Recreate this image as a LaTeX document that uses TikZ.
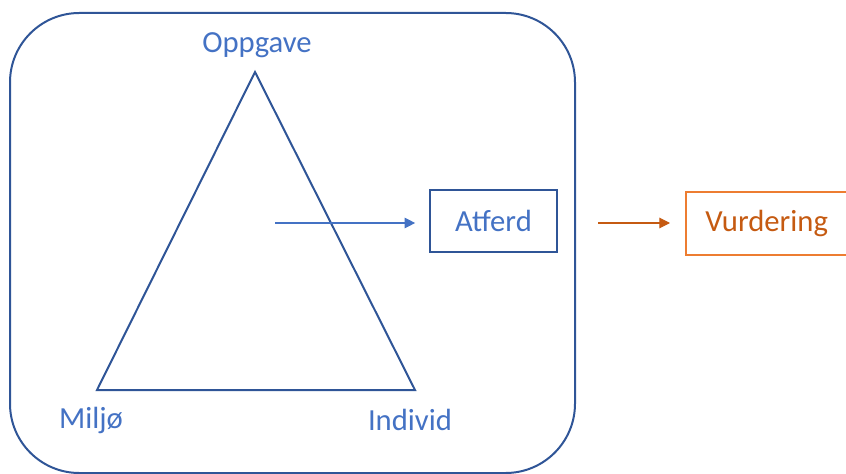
\documentclass[tikz,border=0pt]{standalone}
\usepackage{fontspec}
\setmainfont{Carlito}
\usepackage{tikz}
\usetikzlibrary{calc, arrows.meta, positioning}
\definecolor{frameblue}{RGB}{47,85,151}
\definecolor{textblue}{RGB}{68,114,196}
\definecolor{boxorange}{RGB}{237,125,49}
\definecolor{textorange}{RGB}{197,90,17}
\tikzstyle{corner} =[align=center,inner sep=0pt,text=textblue,font=\fontsize{23}{0}\selectfont]
\tikzstyle{stagebox} =[draw,line width=1.5pt,minimum height=47pt,font=\fontsize{23}{0}\selectfont]

\begin{document}
\begin{tikzpicture}[x=0.75pt, y=-0.75pt]
        \useasboundingbox (0,0) rectangle (846,474);

        % Frame
        \draw[frameblue, line width=1.5pt, rounded corners=52pt] (10,13) rectangle (575,473);

        %% Triangle
        \coordinate (top) at (255,72);
        \coordinate (left) at (97,390);
        \coordinate (right) at (415,390);
        \draw[frameblue, line width=1.5pt, line join=miter] (top) -- (left) -- (right) -- cycle;

        % Corner labels
        \node[corner] (oppgave) at (257,45) {Oppgave};
        \node[corner] (miljo) at (91,420) {Miljø};
        \node[corner] (individ) at (410,420) {Individ};

        %% Boxes
        \node[stagebox, frameblue, text=textblue, minimum width=95pt] (atferd) at (493.5,221) {Atferd};
        \node[stagebox, boxorange, text=textorange, minimum width=121pt, anchor=west] (vurdering) at (685,223.5) {Vurdering};

        %% Arrows
        \coordinate (mid) at (275,223);
        \draw[-{Triangle[length=8pt,width=8pt]}, textblue, line width=0.8pt] (mid) -- ($(mid -| atferd.west)+(-14,0)$);
        \coordinate (out) at (598,223);
        \draw[-{Triangle[length=8pt,width=8pt]}, textorange, line width=0.8pt] (out) -- ($(out -| vurdering.west)+(-15,0)$);

    \end{tikzpicture}
\end{document}
